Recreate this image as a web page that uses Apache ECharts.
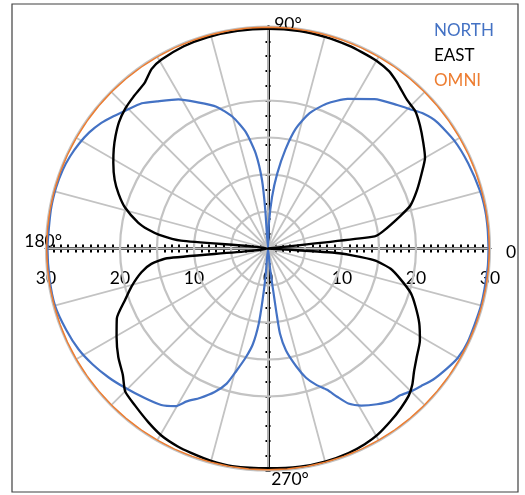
<!DOCTYPE html>
<html>
<head>
<meta charset="utf-8">
<script src="https://cdn.jsdelivr.net/npm/echarts@6/dist/echarts.min.js"></script>
<style>
html,body{margin:0;padding:0;background:#fff;}
#chart{width:525px;height:495px;}
</style>
</head>
<body>
<div id="chart"></div>
<script>
// ---- data ----
const seriesNames = ['NORTH', 'EAST', 'OMNI'];
const seriesColors = ['#4472C4', '#000000', '#ED7D31'];

const northAngle = [0,5,10,15,23,30,37,41,44,48,54.5,62,68,73,77,80,83,85.5,88,90,
  94,95,97.4,100.8,105,110,116,121,127,131,136,140,143,147,151,155,159,164,170,180,
  188,195,202,208,213.5,219,224,230.5,235.7,239.6,242,245.5,249.6,253,255.5,258.5,261,263,264,265,270,
  276,277,277.5,278,280,283.5,286.4,289.4,292.7,295,297.4,300.7,305,309,312,315,318,321.6,326,330,335,345,355,360];
const northR = [29.8,29.8,29.8,29.7,29.4,29.1,28.5,27.8,27.0,26.1,24.8,22.9,21.1,19.1,16.6,13.6,10.2,7.0,3.3,0,
  5.1,9.3,13.0,16.0,18.4,20.4,22.0,23.5,24.9,26.0,26.8,27.6,28.2,28.8,29.2,29.5,29.7,29.8,29.8,29.8,
  29.8,29.8,29.4,29.0,28.4,27.7,27.0,26.2,25.6,24.7,23.4,22.2,20.7,19.1,17.1,15.0,13.1,10.2,7.0,3.7,0,
  2.8,5.6,8.8,11.6,14.0,16.4,18.2,19.5,20.7,22.1,23.6,24.7,25.7,26.5,26.7,27.3,27.8,28.5,29.1,29.6,29.8,29.8,29.8,29.8];

const eastAngle = [0,6.5,8.5,13.8,16.8,21.3,26,30,34.3,38.9,42.9,46.9,50.5,52.6,55.6,60,64.5,68.3,74.7,81.7,90,
  98,106,112.6,119.4,123,126.7,131.6,135.6,139.7,143.6,147.2,151,155.9,159.9,164,168.7,171,172.8,174.8,180,
  185.5,187.5,190.6,195.4,199.7,204.8,210.3,216,221,225,229.7,235.4,240.4,245.5,249.2,254.8,260.7,270,
  278.3,285.2,291.5,296.3,300.5,305.5,309.5,313.8,316.7,319.9,323.8,328.8,333.7,338.6,342.7,346.9,350.6,353.6,355.3,356.4,360];
const eastR = [0,14.5,15.7,18.4,20.1,21.6,23.1,24.5,25.4,26.4,27.2,27.5,28.1,28.5,29.0,29.3,29.4,29.5,29.6,29.7,29.7,
  29.7,29.7,29.6,29.3,28.9,27.9,27.4,27.0,26.4,25.6,24.8,23.9,22.7,21.5,20.1,17.9,16.4,14.8,11.8,0,
  13.7,15.9,17.4,19.1,20.5,22.5,23.7,25.0,26.0,27.3,27.8,28.5,29.1,29.4,29.5,29.7,29.8,29.7,
  29.8,29.8,29.7,29.5,29.2,28.6,28.1,27.5,26.8,25.8,24.9,24.0,22.8,21.4,20.2,18.4,16.8,14.5,11.4,8.7,0];

const omniAngle = [0,5,10,15,20,25,30,35,40,45,50,55,60,65,70,75,80,85,90,
  95,100,105,110,115,120,125,130,135,140,145,150,155,160,165,170,175,180,
  185,190,195,200,205,210,215,220,225,230,235,240,245,250,255,260,265,270,
  275,280,285,290,295,300,305,310,315,320,325,330,335,340,345,350,355,360];
const omniR = [30,30,30,30,30,30,30,30,30,30,30,30,30,30,30,30,30,30,30,
  30,30,30,30,30,30,30,30,30,30,30,30,30,30,30,30,30,30,
  30,30,30,30,30,30,30,30,30,30,30,30,30,30,30,30,30,30,
  30,30,30,30,30,30,30,30,30,30,30,30,30,30,30,30,30,30];

// axis ticks / labels
const radiusMin = 0, radiusMax = 30, gridStep = 5, labelStep = 10;
const hiddenRing = 25;
const angleStep = 15;
const angleTickValues = [0, 90, 180, 270];
const angleTickTexts = ['0', '90°', '180°', '270°'];

// ---- layout / style ----
const FONT = 'Lato';
const cx = 268, cy = 248.5, R = 222;
const GRID_GRAY = '#c3c3c3';

function zip(r, a) { return r.map((v, i) => [v, a[i]]); }

const ringColors = [];
for (let v = radiusMin; v <= radiusMax; v += gridStep) {
  ringColors.push(v === hiddenRing ? 'rgba(0,0,0,0)' : GRID_GRAY);
}

function cartAxis(pos, tickLen, minorSplit) {
  return {
    type: 'value', min: -radiusMax, max: radiusMax, interval: labelStep, position: pos, gridIndex: 0,
    axisLine: { show: true, onZero: true, lineStyle: { color: '#000', width: 2.5 } },
    axisTick: { show: true, length: tickLen, lineStyle: { color: '#000', width: 2 } },
    minorTick: { show: true, splitNumber: minorSplit, length: tickLen, lineStyle: { color: '#000', width: 2 } },
    axisLabel: { show: false },
    splitLine: { show: false },
    z: 1
  };
}

const richLab = {
  a0: { padding: [7, 0, 0, 46], fontSize: 17.5, fontFamily: FONT, color: '#000' },
  a1: { padding: [0, 0, 23, 40], fontSize: 17.5, fontFamily: FONT, color: '#000' },
  a2: { padding: [0, 14, 14, 0], fontSize: 17.5, fontFamily: FONT, color: '#000' },
  a3: { padding: [30, 0, 0, 44], fontSize: 17.5, fontFamily: FONT, color: '#000' }
};

const option = {
  animation: false,
  backgroundColor: '#ffffff',
  textStyle: { fontFamily: FONT },
  graphic: [{
    type: 'rect', z: -10,
    shape: { x: 12, y: 4, width: 506, height: 488 },
    style: { fill: 'none', stroke: '#404040', lineWidth: 1.2 }
  }],
  legend: {
    orient: 'vertical', left: 424, top: 17,
    icon: 'none', itemWidth: 0, itemHeight: 16, itemGap: 8,
    textStyle: { fontSize: 17, fontFamily: FONT },
    data: seriesNames.map((n, i) => ({ name: n, textStyle: { color: seriesColors[i] } }))
  },
  grid: [
    { left: cx - R, top: cy - R, width: 2 * R, height: 2 * R, show: false },
    { left: cx - R, top: cy - R, width: 2 * R, height: R, show: false }
  ],
  xAxis: [
    cartAxis('bottom', 4, 10),
    cartAxis('top', 4, 10),
    {
      type: 'value', gridIndex: 1, position: 'bottom', min: -radiusMax, max: radiusMax, interval: labelStep,
      axisLine: { show: false, onZero: false }, axisTick: { show: false }, splitLine: { show: false },
      axisLabel: { show: true, formatter: v => String(Math.abs(v)), color: '#000', fontSize: 17.5, fontFamily: FONT, margin: 21 },
      z: 1
    }
  ],
  yAxis: [
    cartAxis('left', 2.5, 5),
    cartAxis('right', 2.5, 5),
    { type: 'value', gridIndex: 1, min: 0, max: 1, show: false }
  ],
  polar: { center: [cx, cy], radius: R },
  angleAxis: {
    type: 'value', min: 0, max: 360, interval: angleStep, startAngle: 0, clockwise: false,
    axisLine: { show: false }, axisTick: { show: false },
    splitLine: { show: true, lineStyle: { color: GRID_GRAY, width: 1.8 } },
    axisLabel: {
      show: true, margin: -30, fontSize: 17.5, fontFamily: FONT, color: '#000',
      formatter: function (v) {
        const i = angleTickValues.indexOf(v);
        return i < 0 || v === 360 ? '' : '{a' + i + '|' + angleTickTexts[i] + '}';
      },
      rich: richLab
    },
    z: 2
  },
  radiusAxis: {
    type: 'value', min: radiusMin, max: radiusMax, interval: gridStep,
    axisLine: { show: false }, axisTick: { show: false }, axisLabel: { show: false },
    splitLine: { show: true, lineStyle: { color: ringColors, width: 2.2 } },
    z: 2
  },
  series: [
    { name: seriesNames[0], type: 'line', coordinateSystem: 'polar', data: zip(northR, northAngle),
      showSymbol: false, symbol: 'none', smooth: 0.2, lineStyle: { color: seriesColors[0], width: 2.2 }, itemStyle: { color: seriesColors[0] }, z: 4 },
    { name: seriesNames[1], type: 'line', coordinateSystem: 'polar', data: zip(eastR, eastAngle),
      showSymbol: false, symbol: 'none', smooth: 0.2, lineStyle: { color: seriesColors[1], width: 2.4 }, itemStyle: { color: seriesColors[1] }, z: 4 },
    { name: seriesNames[2], type: 'line', coordinateSystem: 'polar', data: zip(omniR, omniAngle),
      showSymbol: false, symbol: 'none', smooth: false, lineStyle: { color: seriesColors[2], width: 2.8 }, itemStyle: { color: seriesColors[2] }, z: 5 }
  ]
};

const chart = echarts.init(document.getElementById('chart'), null, { renderer: 'canvas' });
chart.setOption(option);
</script>
</body>
</html>
